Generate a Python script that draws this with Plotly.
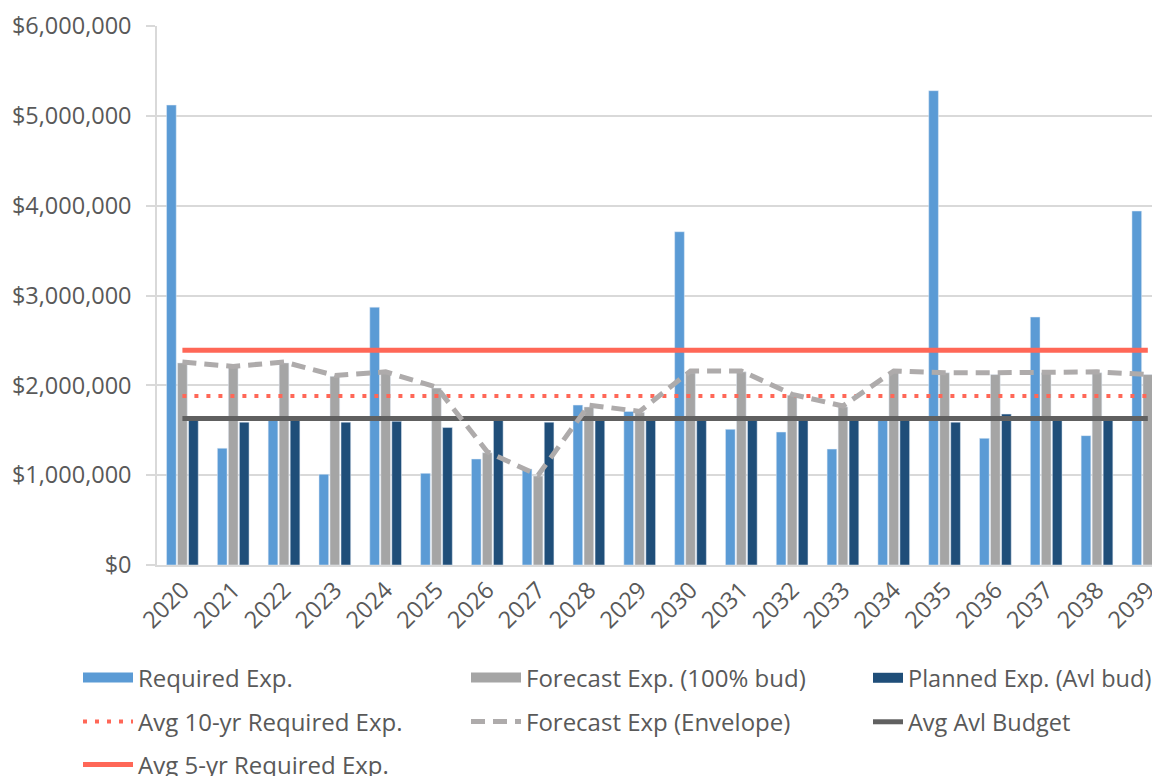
import plotly.graph_objects as go

years = [str(y) for y in range(2020, 2040)]

required_exp = [5120000, 1300000, 1640000, 1010000, 2870000, 1020000, 1180000, 1070000, 1780000, 1710000,
                3710000, 1510000, 1480000, 1290000, 1630000, 5280000, 1410000, 2760000, 1440000, 3940000]
forecast_exp = [2250000, 2210000, 2250000, 2100000, 2140000, 1970000, 1250000, 990000, 1760000, 1700000,
                2140000, 2150000, 1890000, 1760000, 2150000, 2140000, 2120000, 2140000, 2140000, 2120000]
planned_exp = [1610000, 1590000, 1610000, 1590000, 1600000, 1530000, 1610000, 1590000, 1610000, 1610000,
               1610000, 1610000, 1610000, 1610000, 1610000, 1590000, 1680000, 1610000, 1610000, 1630000]
envelope_exp = [2260000, 2210000, 2260000, 2110000, 2150000, 1980000, 1260000, 1000000, 1780000, 1710000,
                2160000, 2160000, 1900000, 1770000, 2160000, 2140000, 2140000, 2150000, 2150000, 2120000]
avg_10yr_required = 1880000
avg_5yr_required = 2390000
avg_avl_budget = 1630000

y_ticks = [0, 1000000, 2000000, 3000000, 4000000, 5000000, 6000000]
y_tick_text = ["$0", "$1,000,000", "$2,000,000", "$3,000,000", "$4,000,000", "$5,000,000", "$6,000,000"]

BLUE = "#5B9BD5"
GRAY = "#A5A5A5"
NAVY = "#1F4E79"
RED = "#FF6757"
ENV = "#AEABAB"
DARK = "#606060"
TXT = "#595959"
FONT = "Open Sans"

fig = go.Figure()

fig.add_trace(go.Bar(x=years, y=required_exp, name="Required Exp.", marker_color=BLUE,
                     showlegend=False, legendgroup="req"))
fig.add_trace(go.Bar(x=years, y=forecast_exp, name="Forecast Exp. (100% bud)", marker_color=GRAY,
                     showlegend=False, legendgroup="fc"))
fig.add_trace(go.Bar(x=years, y=planned_exp, name="Planned Exp. (Avl bud)", marker_color=NAVY,
                     showlegend=False, legendgroup="pl"))

n = len(years)
fig.add_trace(go.Scatter(x=years, y=[avg_avl_budget] * n, mode="lines", name="Avg Avl Budget",
                         line=dict(color=DARK, width=5), legend="legend6"))
fig.add_trace(go.Scatter(x=years, y=[avg_10yr_required] * n, mode="lines", name="Avg 10-yr Required Exp.",
                         line=dict(color=RED, width=4, dash="4px,8px"), legend="legend4"))
fig.add_trace(go.Scatter(x=years, y=envelope_exp, mode="lines", name="Forecast Exp (Envelope)",
                         line=dict(color=ENV, width=5, dash="14px,8px"), legend="legend5"))
fig.add_trace(go.Scatter(x=years, y=[avg_5yr_required] * n, mode="lines", name="Avg 5-yr Required Exp.",
                         line=dict(color=RED, width=5), legend="legend7"))

# legend-only swatches for the bar series (wide rectangles like the original)
fig.add_trace(go.Scatter(x=[None], y=[None], mode="lines", name="Required Exp.",
                         line=dict(color=BLUE, width=10), legend="legend", legendgroup="req"))
fig.add_trace(go.Scatter(x=[None], y=[None], mode="lines", name="Forecast Exp. (100% bud)",
                         line=dict(color=GRAY, width=10), legend="legend2", legendgroup="fc"))
fig.add_trace(go.Scatter(x=[None], y=[None], mode="lines", name="Planned Exp. (Avl bud)",
                         line=dict(color=NAVY, width=10), legend="legend3", legendgroup="pl"))

# page body has an 8px default margin: the figure is sized/offset to compensate
OFF = 8
W, H = 1160 - OFF, 776 - OFF
L, R, T = 157 - OFF, 0, 26 - OFF
B = H - (565 - OFF)
pw, ph = W - L - R, H - T - B


def lx(px):
    return (px - OFF - L) / pw


def ly(py):
    return (H - B - (py - OFF)) / ph


def leg(px, py, iw=50, fs=24):
    return dict(x=lx(px), y=ly(py), font=dict(family=FONT, size=fs, color=TXT),
                bgcolor="rgba(0,0,0,0)", xanchor="left", yanchor="middle",
                borderwidth=0, itemwidth=iw)


fig.update_layout(
    width=W, height=H,
    margin=dict(l=L, r=R, t=T, b=B, autoexpand=False),
    paper_bgcolor="white", plot_bgcolor="white",
    barmode="group", bargap=0.35, bargroupgap=0.12,
    font=dict(family=FONT, size=23.5, color=TXT),
    xaxis=dict(type="category", range=[-0.5, 19.24], tickangle=-45, showgrid=False,
               showline=True, linecolor="#D9D9D9", linewidth=2, ticks="",
               tickfont=dict(family=FONT, size=23.5, color=TXT)),
    yaxis=dict(range=[0, 6000000], tickvals=y_ticks, ticktext=y_tick_text,
               showgrid=True, gridcolor="#D9D9D9", gridwidth=1.5,
               showline=True, linecolor="#D9D9D9", linewidth=1.5,
               ticks="outside", ticklen=9, tickcolor="#D9D9D9", tickwidth=1.5,
               ticklabelstandoff=10, zeroline=False,
               tickfont=dict(family=FONT, size=23.5, color=TXT)),
    legend=leg(78, 678),
    legend2=leg(466, 678),
    legend3=leg(868, 678, iw=30, fs=23.5),
    legend4=leg(78, 722),
    legend5=leg(466, 722),
    legend6=leg(868, 722, iw=30, fs=23.5),
    legend7=leg(78, 765),
)

fig.write_html("out.html")
